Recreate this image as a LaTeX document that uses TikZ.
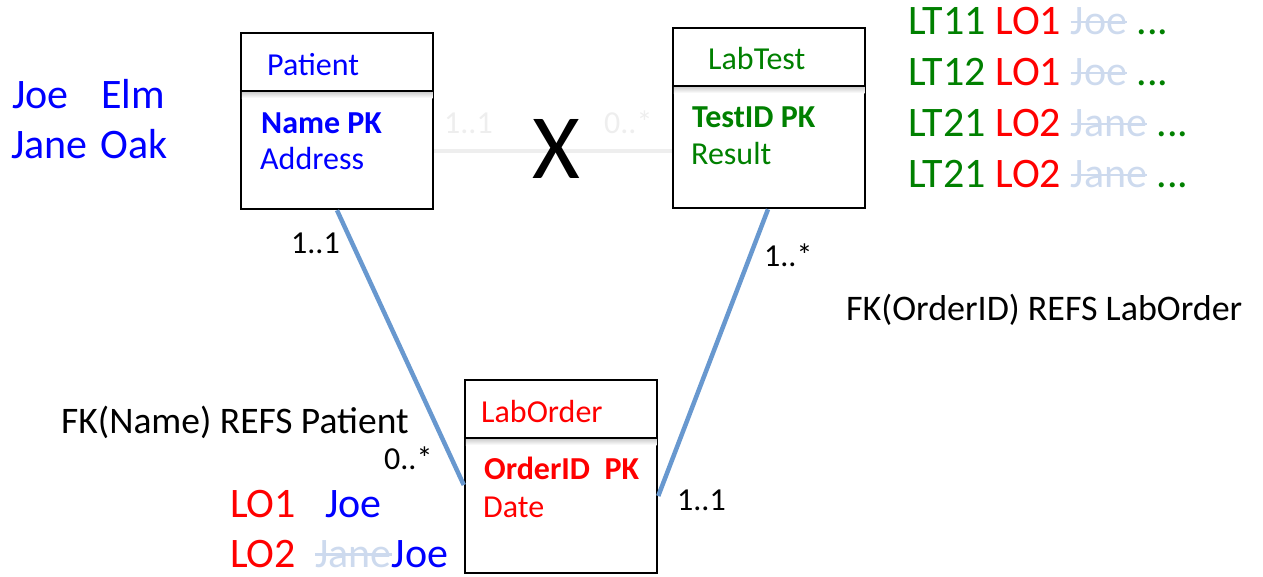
\documentclass[tikz,border=0pt]{standalone}
\usepackage{fontspec}
\setmainfont{Carlito}
\usepackage{xcolor}
\usetikzlibrary{positioning}

\definecolor{pblue}{RGB}{0,0,255}
\definecolor{tgreen}{RGB}{0,128,0}
\definecolor{ored}{RGB}{255,0,0}
\definecolor{linkblue}{RGB}{104,152,207}
\definecolor{faded}{RGB}{205,218,238}
\definecolor{ghost}{RGB}{238,238,238}

% font sizes (1pt = 1px here)
\newcommand{\boxfont}{\fontsize{32}{38}\selectfont}
\newcommand{\multfont}{\fontsize{32}{38}\selectfont}
\newcommand{\fkfont}{\fontsize{36}{42}\selectfont}
\newcommand{\datafont}{\fontsize{42}{50}\selectfont}
% struck-out value
\newlength{\strikelen}
\newcommand{\struck}[1]{{\color{faded}\settowidth{\strikelen}{#1}\rlap{\rule[0.27em]{\strikelen}{2.2pt}}#1}}

\begin{document}
\begin{tikzpicture}[x=1pt, y=-1pt,
    entity/.style={draw, line width=2.5pt, inner sep=0pt, minimum width=192pt},
    divider/.style={line width=2.5pt},
    divshade/.style={top color=black!22, bottom color=white, draw=none},
    txt/.style={anchor=base west, inner sep=0pt},
    link/.style={linkblue, line width=4.5pt},
    mult/.style={txt, font=\multfont},
    ghostmult/.style={mult, text=ghost}]
    \useasboundingbox (0,0) rectangle (1263,576);

    % tables
    \node[entity, minimum height=176pt] (patient) at (337,121) {};
    \node[entity, minimum height=180pt] (labtest) at (769,118) {};
    \node[entity, minimum height=193pt] (laborder) at (561,476.5) {};

    \coordinate (pdiv) at (337,91);
    \coordinate (tdiv) at (769,86);
    \coordinate (odiv) at (561,438);
    \shade[divshade] ([xshift=2pt]patient.west |- pdiv) rectangle ([xshift=-2pt,yshift=-7pt]patient.east |- pdiv);
    \shade[divshade] ([xshift=2pt]labtest.west |- tdiv) rectangle ([xshift=-2pt,yshift=-7pt]labtest.east |- tdiv);
    \shade[divshade] ([xshift=2pt]laborder.west |- odiv) rectangle ([xshift=-2pt,yshift=-7pt]laborder.east |- odiv);
    \draw[divider] (patient.west |- pdiv) -- (patient.east |- pdiv);
    \draw[divider] (labtest.west |- tdiv) -- (labtest.east |- tdiv);
    \draw[divider] (laborder.west |- odiv) -- (laborder.east |- odiv);

    \node[txt, font=\boxfont, text=pblue] (patienthead) at (267,75) {Patient};
    \node[txt, font=\boxfont\bfseries, text=pblue] (patientpk) at (261,133) {Name PK};
    \node[txt, font=\boxfont, text=pblue] (patientaddr) at (260,169) {Address};

    \node[txt, font=\boxfont, text=tgreen] (labtesthead) at (708,69) {LabTest};
    \node[txt, font=\boxfont\bfseries, text=tgreen] (labtestpk) at (692,127) {TestID PK};
    \node[txt, font=\boxfont, text=tgreen] (labtestres) at (691,164) {Result};

    \node[txt, font=\boxfont, text=ored] (laborderhead) at (481,422) {LabOrder};
    \node[txt, font=\boxfont\bfseries, text=ored] (laborderpk) at (484,479) {OrderID\ \ PK};
    \node[txt, font=\boxfont, text=ored] (laborderdate) at (483,517) {Date};

    % relationships
    \coordinate (pa) at ([yshift=-30pt]patient.east);
    \draw[ghost, line width=4pt] (pa) -- (labtest.west |- pa);
    \node[ghostmult] (m1) at (444,133) {1..1};
    \node[ghostmult] (m2) at (604,133) {0..*};
    \node[anchor=base, inner sep=0pt, font=\fontsize{92}{100}\selectfont] (cross) at (556.5,178) {X};

    \draw[link] (patient.south) -- ([yshift=-8.5pt]laborder.west);
    \draw[link] ([xshift=-1pt]labtest.south) -- ([yshift=-19.5pt]laborder.east);
    \node[mult] (m3) at (291,253) {1..1};
    \node[mult] (m4) at (764,266) {1..*};
    \node[mult] (m5) at (384,469) {0..*};
    \node[mult] (m6) at (677,510) {1..1};

    \node[txt, font=\fontsize{37.5}{44}\selectfont] (fkname) at (61,433) {FK(Name) REFS Patient};
    \node[txt, font=\fkfont] (fkorder) at (846,320) {FK(OrderID) REFS LabOrder};

    % sample rows
    \node[txt, font=\datafont, text=pblue] (joe) at (12,108) {Joe};
    \node[txt, font=\datafont, text=pblue] (elm) at (101,108) {Elm};
    \node[txt, font=\datafont, text=pblue] (jane) at (11,158) {Jane};
    \node[txt, font=\datafont, text=pblue] (oak) at (100,158) {Oak};

    \node[txt, font=\datafont, text=ored] (lo1) at (230,517) {LO1};
    \node[txt, font=\datafont, text=pblue] (lo1who) at (325,517) {Joe};
    \node[txt, font=\datafont, text=ored] (lo2) at (230,567) {LO2};
    \node[txt, font=\datafont, text=pblue] (lo2who) at (315,567) {\struck{Jane}Joe};

    \foreach \lt/\lo/\who [count=\i] in {LT11/LO1/Joe, LT12/LO1/Joe, LT21/LO2/Jane, LT21/LO2/Jane}
        \node[txt, font=\datafont, text=tgreen] (row\i) at (908,{34.5+51*(\i-1)})
            {\lt{} \textcolor{ored}{\lo} \struck{\who} ...};
\end{tikzpicture}
\end{document}
